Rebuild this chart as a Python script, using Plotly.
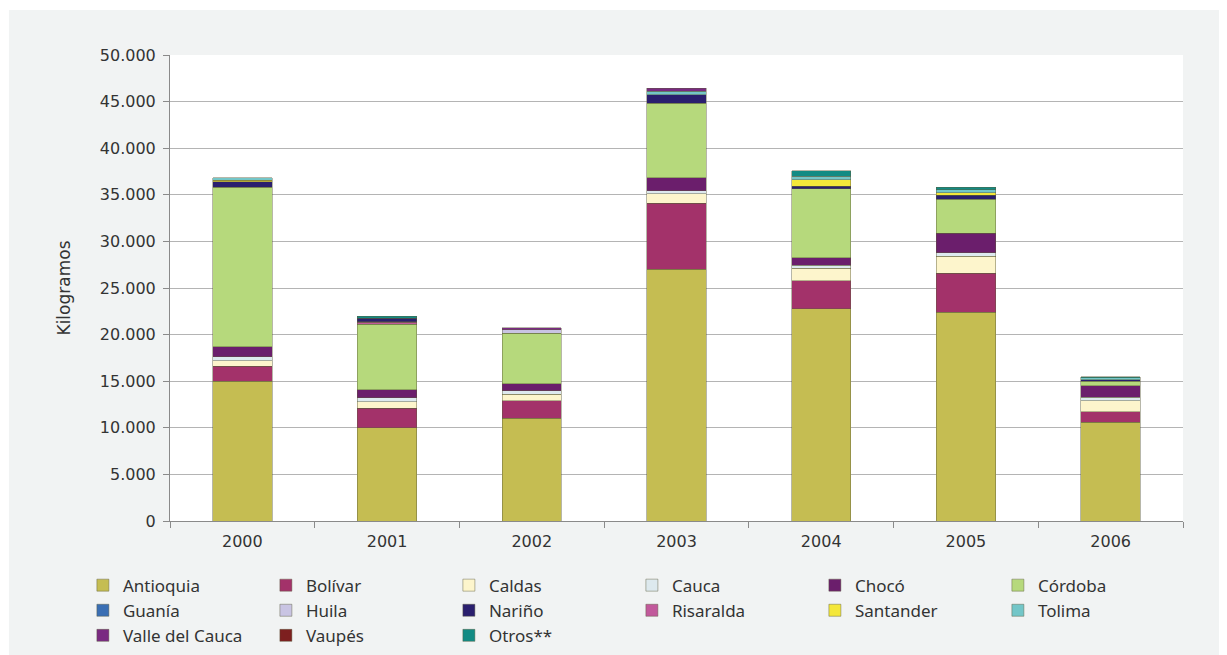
import plotly.graph_objects as go

years = ["2000", "2001", "2002", "2003", "2004", "2005", "2006"]

antioquia = [15000, 10000, 11000, 27000, 22800, 22400, 10600]
bolivar   = [1600, 2100, 1900, 7100, 3000, 4200, 1100]
caldas    = [600, 700, 700, 1000, 1300, 1800, 1200]
cauca     = [400, 400, 350, 350, 350, 400, 400]
choco     = [1100, 900, 800, 1400, 800, 2100, 1200]
cordoba   = [17100, 7000, 5400, 8000, 7400, 3600, 500]
guania    = [None, None, None, None, None, None, None]
huila     = [None, None, 350, None, None, None, None]
narino    = [600, 350, None, 900, 250, 450, 150]
risaralda = [None, 200, None, None, None, None, None]
santander = [150, None, None, None, 700, 250, None]
tolima    = [300, None, None, 350, 400, 350, 200]
valle     = [None, None, 250, 350, None, None, None]
vaupes    = [None, 100, None, None, None, None, None]
otros     = [None, 200, None, None, 600, 250, 150]

# (name, values, colour, legend rank) in stacking order bottom -> top
series = [
    ("Antioquia", antioquia, "#c5bd52", 1),
    ("Bolívar", bolivar, "#a3326a", 2),
    ("Caldas", caldas, "#fdf5cc", 3),
    ("Cauca", cauca, "#dde9ee", 4),
    ("Chocó", choco, "#6b1e6c", 5),
    ("Córdoba", cordoba, "#b6d97c", 6),
    ("Huila", huila, "#c9c4e3", 8),
    ("Risaralda", risaralda, "#c1599b", 10),
    ("Vaupés", vaupes, "#7d1f1f", 14),
    ("Nariño", narino, "#2a1f6e", 9),
    ("Santander", santander, "#f4e73a", 11),
    ("Tolima", tolima, "#73c6c8", 12),
    ("Valle del Cauca", valle, "#7a2a82", 13),
    ("Guanía", guania, "#3a6fb4", 7),
    ("Otros**", otros, "#128b84", 15),
]

fig = go.Figure()
for name, vals, col, rank in series:
    fig.add_trace(go.Bar(
        x=years, y=vals, name=name, legendrank=rank,
        marker=dict(color=col, line=dict(color="rgba(90,90,60,0.55)", width=0.8)),
        width=0.41,
    ))

fig.update_layout(
    width=1219, height=647,
    barmode="stack",
    separators=",.",
    paper_bgcolor="white",
    plot_bgcolor="rgba(0,0,0,0)",
    margin=dict(l=162, r=44, t=47, b=134, autoexpand=False),
    font=dict(family="DejaVu Sans", size=16, color="#333333"),
    showlegend=True,
    legend=dict(
        orientation="h", x=-0.086, xanchor="left", y=-0.100, yanchor="top",
        traceorder="normal", entrywidth=138, entrywidthmode="pixels",
        font=dict(family="Noto Sans", size=17, color="#333333"),
        bgcolor="rgba(0,0,0,0)",
    ),
    shapes=[
        dict(type="rect", xref="paper", yref="paper", x0=-0.159, x1=1.05,
             y0=-0.30, y1=1.0966, fillcolor="#f1f3f3", line=dict(width=0), layer="below"),
        dict(type="rect", xref="paper", yref="paper", x0=0, x1=1, y0=0, y1=1,
             fillcolor="white", line=dict(width=0), layer="below"),
    ],
)

fig.update_xaxes(
    showline=True, linecolor="#8a8a8a", linewidth=1,
    ticks="outside", tickson="boundaries", ticklen=6, tickcolor="#8a8a8a",
    ticklabelstandoff=6,
    tickfont=dict(family="DejaVu Sans", size=16, color="#333333"),
)
fig.update_yaxes(
    range=[0, 50000], dtick=5000, tickformat=",d",
    showline=True, linecolor="#8a8a8a", linewidth=1,
    ticks="outside", ticklen=6, tickcolor="#8a8a8a",
    showgrid=True, gridcolor="#b4b4b4", gridwidth=1,
    ticklabelstandoff=4,
    tickfont=dict(family="DejaVu Sans", size=16, color="#333333"),
    title=dict(text="Kilogramos", standoff=24, font=dict(family="DejaVu Sans", size=17, color="#333333")),
    zeroline=False,
)

fig.write_html("out.html")
